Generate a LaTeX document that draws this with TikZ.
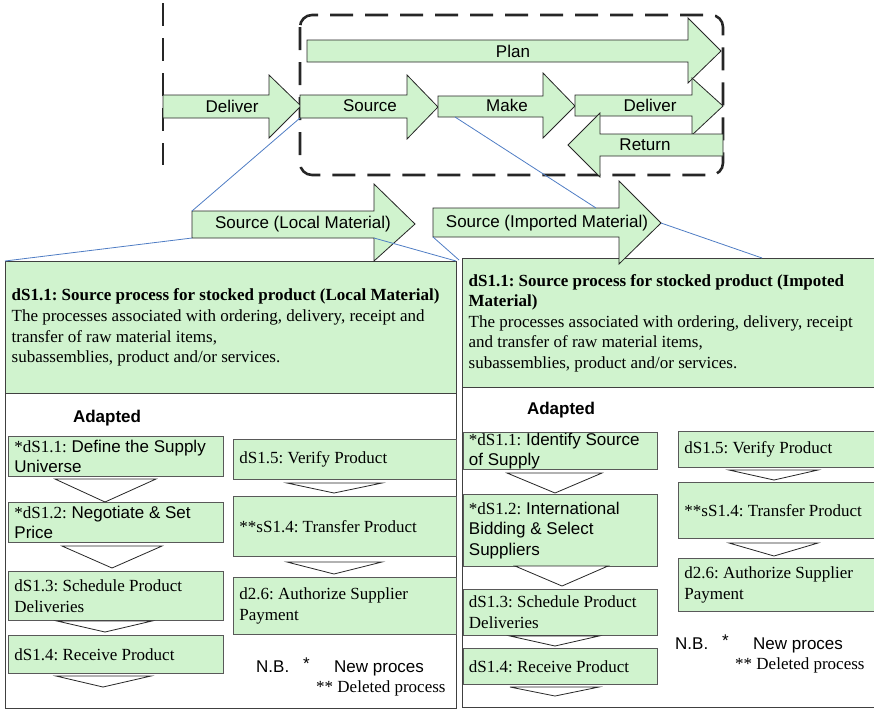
\documentclass[tikz,border=0pt]{standalone}
\usepackage{fontspec}
\setmainfont{Liberation Serif}
\setsansfont{Liberation Sans}
\definecolor{pgreen}{RGB}{208,243,206}
\definecolor{linkblue}{RGB}{79,125,196}
\newcommand\txtsize{\fontsize{17}{20.6}\selectfont}
\tikzset{
  flow/.style={draw=black!85, fill=pgreen, line width=0.8pt, line join=miter},
  procbox/.style={draw=black!65, fill=pgreen, line width=0.9pt, anchor=north west,
    inner xsep=6pt, inner ysep=0pt, align=flush left, font=\rmfamily\txtsize},
  bigbox/.style={draw=black!75, fill=white, line width=1.3pt, anchor=north west, inner sep=0pt},
  hdrbox/.style={draw=black!75, fill=pgreen, line width=1.3pt, anchor=north west,
    inner xsep=6pt, inner ysep=0pt, align=flush left, font=\rmfamily\txtsize},
  chev/.style={draw=black!85, fill=white, line width=0.8pt},
  link/.style={draw=linkblue, line width=0.8pt},
  lbl/.style={font=\sffamily\txtsize, inner sep=0pt},
  note/.style={inner sep=0pt, anchor=base west},
  phase/.style={draw=black!85, line width=2.6pt, dash pattern=on 23pt off 12pt}
}
\begin{document}
\frenchspacing
\begin{tikzpicture}[x=1pt, y=-1pt]
\useasboundingbox (0,0) rectangle (874,710);
\clip (0,0) rectangle (874,710);

% ---------- lower panels ----------
\node[bigbox, minimum width=451, minimum height=447] (lbox) at (5,261) {};
\node[hdrbox, minimum width=451, minimum height=132, text width=439] (lhead) at (5,261)
  {\textbf{dS1.1: Source process for stocked product (Local Material)}\\
   The processes associated with ordering, delivery, receipt and\\
   transfer of raw material items,\\
   subassemblies, product and/or services.};

\node[bigbox, minimum width=420, minimum height=449] (rbox) at (462,258) {};
\node[hdrbox, minimum width=420, minimum height=129, text width=408] (rhead) at (462,258)
  {\textbf{dS1.1: Source process for stocked product (Impoted}\\
   \textbf{Material)}\\
   The processes associated with ordering, delivery, receipt\\
   and transfer of raw material items,\\
   subassemblies, product and/or services.};

% ---------- left panel steps ----------
\node[font=\sffamily\bfseries\txtsize, inner sep=0pt] (ladapt) at (107,418) {Adapted};
\node[procbox, minimum width=215, minimum height=40, text width=203] (a1) at (8,436)
  {*dS1.1:\sffamily\ Define the Supply\\Universe};
\node[procbox, minimum width=215, minimum height=40, text width=203] (a2) at (8,502)
  {*dS1.2:\sffamily\ Negotiate \& Set\\Price};
\node[procbox, minimum width=215, minimum height=49, text width=203] (a3) at (8,571)
  {dS1.3: Schedule Product\\Deliveries};
\node[procbox, minimum width=215, minimum height=38, text width=203] (a4) at (8,635)
  {dS1.4: Receive Product};
\draw[chev] (55,479) -- (156,479) -- (105,502) -- cycle;
\draw[chev] (62,546) -- (162,546) -- (112,568) -- cycle;
\draw[chev] (57,621) -- (152,621) -- (105,632) -- cycle;
\draw[chev] (56,676) -- (151,676) -- (103,687) -- cycle;

\node[procbox, minimum width=223, minimum height=40, text width=211] (b1) at (233,439)
  {dS1.5: Verify Product};
\node[procbox, minimum width=223, minimum height=60, text width=211] (b2) at (233,496)
  {**sS1.4: Transfer Product};
\node[procbox, minimum width=223, minimum height=57, text width=211] (b3) at (233,577)
  {d2.6: Authorize Supplier\\Payment};
\draw[chev] (287,483) -- (382,483) -- (334,493) -- cycle;
\draw[chev] (287,562) -- (382,562) -- (334,574) -- cycle;

\node[note, font=\sffamily\txtsize] (lnb) at (256,672) {N.B.};
\node[note, font=\sffamily\txtsize] (lstar) at (303,669) {*};
\node[note, font=\sffamily\txtsize] (lnew) at (334,672) {New proces};
\node[note, font=\rmfamily\txtsize] (ldel) at (316,692) {** Deleted process};

% ---------- right panel steps ----------
\node[font=\sffamily\bfseries\txtsize, inner sep=0pt] (radapt) at (561,410) {Adapted};
\node[procbox, minimum width=194, minimum height=37, text width=183, inner xsep=5.5pt] (c1) at (463,432)
  {*dS1.1:\sffamily\ Identify Source\\of Supply};
\node[procbox, minimum width=194, minimum height=72, text width=183, inner xsep=5.5pt] (c2) at (463,494)
  {*dS1.2:\sffamily\ International\\Bidding \& Select\\Suppliers};
\node[procbox, minimum width=194, minimum height=46, text width=183, inner xsep=5.5pt] (c3) at (463,589)
  {dS1.3: Schedule Product\\Deliveries};
\node[procbox, minimum width=194, minimum height=36, text width=183, inner xsep=5.5pt] (c4) at (463,648)
  {dS1.4: Receive Product};
\draw[chev] (507,473) -- (602,473) -- (555,493) -- cycle;
\draw[chev] (515,566) -- (608,566) -- (562,586) -- cycle;
\draw[chev] (510,636) -- (599,636) -- (555,646) -- cycle;
\draw[chev] (510,687) -- (599,687) -- (555,696) -- cycle;

\node[procbox, minimum width=204, minimum height=36, text width=192] (d1) at (678,431)
  {dS1.5: Verify Product};
\node[procbox, minimum width=204, minimum height=56, text width=192] (d2) at (678,482)
  {**sS1.4: Transfer Product};
\node[procbox, minimum width=204, minimum height=53, text width=192] (d3) at (678,558)
  {d2.6: Authorize Supplier\\Payment};
\draw[chev] (729,470) -- (818,470) -- (774,480) -- cycle;
\draw[chev] (729,543) -- (818,543) -- (774,556) -- cycle;

\node[note, font=\sffamily\txtsize] (rnb) at (675,649) {N.B.};
\node[note, font=\sffamily\txtsize] (rstar) at (722,646) {*};
\node[note, font=\sffamily\txtsize] (rnew) at (753,649) {New proces};
\node[note, font=\rmfamily\txtsize] (rdel) at (735,669) {** Deleted process};

% ---------- top process chain ----------
\draw[phase] (163,3) -- (163,165);
\draw[phase, rounded corners=12pt] (300,15) rectangle (723,175);

% Plan
\draw[flow] (307,40) -- (688,40) -- (688,18) -- (721,51) -- (688,83) -- (688,62) -- (307,62) -- cycle;
\node[lbl] (tplan) at (513,51) {Plan};
% Deliver (incoming)
\draw[flow] (163,95) -- (269,95) -- (269,75) -- (301,106) -- (269,138) -- (269,118) -- (163,118) -- cycle;
\node[lbl] (tdelin) at (232,106) {Deliver};
% Source
\draw[flow] (300,95) -- (407,95) -- (407,75) -- (438,107) -- (407,139) -- (407,118) -- (300,118) -- cycle;
\node[lbl] (tsource) at (370,106) {Source};
% Make
\draw[flow] (438,96) -- (543,96) -- (543,73) -- (575,106) -- (543,138) -- (543,117) -- (438,117) -- cycle;
\node[lbl] (tmake) at (507,105) {Make};
% Deliver
\draw[flow] (575,95) -- (692,95) -- (692,78) -- (723,106) -- (692,135) -- (692,116) -- (575,116) -- cycle;
\node[lbl] (tdelout) at (650,105) {Deliver};
% Return
\draw[flow] (723,134) -- (600,134) -- (600,113) -- (568,145) -- (600,177) -- (600,156) -- (723,156) -- cycle;
\node[lbl] (tret) at (645,145) {Return};

% Source variants
\draw[flow] (192,211) -- (374,211) -- (374,184) -- (415,224) -- (374,261) -- (374,238) -- (192,238) -- cycle;
\node[lbl] (tlocal) at (303,224) {Source (Local Material)};
\draw[flow] (433,208) -- (619,208) -- (619,181) -- (661,223) -- (619,264) -- (619,237) -- (433,237) -- cycle;
\node[lbl] (timp) at (547,223) {Source (Imported Material)};

% ---------- zoom-out connectors ----------
\coordinate (srcBL) at (300,118);
\coordinate (makeB) at (455,117);
\coordinate (locTL) at (192,211);
\coordinate (locBL) at (192,238);
\coordinate (locBR) at (374,238);
\coordinate (impT) at (596,208);
\coordinate (impBL) at (433,237);
\coordinate (impTip) at (661,223);
\coordinate (lboxTR) at (456,261);
\coordinate (gapT) at (459,260);
\coordinate (rboxT) at (762,258);
\draw[link] (srcBL) -- (locTL);
\draw[link] (locBL) -- (lbox.north west);
\draw[link] (locBR) -- (lboxTR);
\draw[link] (makeB) -- (impT);
\draw[link] (impBL) -- (gapT);
\draw[link] (impTip) -- (rboxT);
\end{tikzpicture}
\end{document}
